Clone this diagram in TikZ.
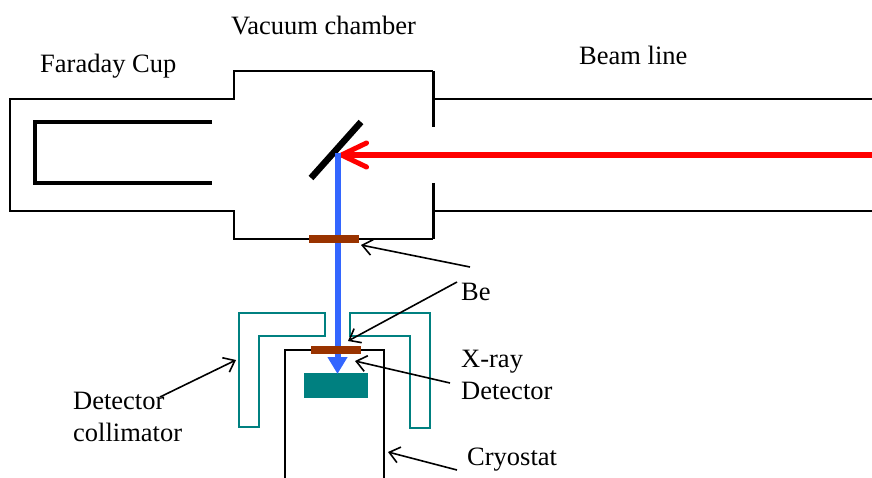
\documentclass[tikz,border=0pt]{standalone}
\usepackage{fontspec}
\setmainfont{Liberation Serif}
\usepackage{tikz}
\usetikzlibrary{arrows.meta}
\definecolor{beamRed}{HTML}{FF0000}
\definecolor{xrayBlue}{HTML}{3366FF}
\definecolor{beBrown}{HTML}{993300}
\definecolor{detTeal}{HTML}{008080}
\tikzset{
  wall/.style={draw=black, line width=1.6pt, line join=miter},
  thickwall/.style={draw=black, line width=3pt},
  cupline/.style={draw=black, line width=3.2pt},
  mirrorbar/.style={draw=black, line width=6.5pt},
  bewindow/.style={rectangle, fill=beBrown, minimum width=50pt, minimum height=8pt, inner sep=0pt},
  collimator/.style={draw=detTeal, line width=1.3pt},
  detbox/.style={rectangle, fill=detTeal, minimum width=64pt, minimum height=25pt, inner sep=0pt},
  redbeam/.style={draw=beamRed, line width=6.5pt, -{Straight Barb[length=25pt,width=24pt,line width=5pt,round]}},
  bluebeam/.style={draw=xrayBlue, line width=6pt, -{Triangle[length=17pt,width=19pt]}},
  pointer/.style={draw=black, line width=1.6pt, -{Straight Barb[length=10pt,width=16pt,line width=1.6pt]}},
  lab/.style={font=\fontsize{26.5}{32}\selectfont, anchor=base west, inner sep=0pt},
}
\begin{document}
\begin{tikzpicture}[x=1pt,y=-1pt]
  \useasboundingbox (0,0) rectangle (872,478);

  % chamber and beam line
  \draw[wall] (872,99) -- (433,99);
  \draw[wall] (872,211) -- (433,211);
  \draw[wall] (433,71) -- (234,71) -- (234,99) -- (10,99) -- (10,211) -- (234,211) -- (234,239) -- (433,239);
  \draw[thickwall] (433,71) -- (433,127);
  \draw[thickwall] (433,183) -- (433,239);
  \draw[cupline] (212,122) -- (35,122) -- (35,183) -- (212,183);

  % mirror and beams
  \coordinate (mirrorA) at (361,122);
  \coordinate (mirrorB) at (311,178);
  \coordinate (beamIn) at (872,155);
  \coordinate (beamHit) at (339,155);
  \coordinate (xrayEnd) at (337.5,374);
  \draw[mirrorbar] (mirrorA) -- (mirrorB);

  % collimator and cryostat
  \draw[collimator] (239,313) -- (325,313) -- (325,336) -- (259,336) -- (259,427) -- (239,427) -- cycle;
  \draw[collimator] (350,313) -- (430,313) -- (430,428) -- (410,428) -- (410,336) -- (350,336) -- cycle;
  \draw[wall] (285,478) -- (285,350) -- (384,350) -- (384,478);
  \node[detbox] (detector) at (336,385.5) {};

  \draw[redbeam] (beamIn) -- (beamHit);
  \draw[bluebeam] (337.5,153) -- (xrayEnd);
  \node[bewindow] (beTop) at (334,239) {};
  \node[bewindow] (beLow) at (336,350) {};

  % labels
  \node[lab] (vacuum) at (231,34.5) {Vacuum chamber};
  \node[lab] (faraday) at (40,73) {Faraday Cup};
  \node[lab] (beamline) at (579,64.5) {Beam line};
  \node[lab] (be) at (461,300) {Be};
  \node[lab, align=left, anchor=north west] (xray) at (461,350) {X-ray\\Detector};
  \node[lab, align=left, anchor=north west] (detcoll) at (73,391.5) {Detector\\collimator};
  \node[lab] (cryostat) at (467,465) {Cryostat};

  % pointers
  \coordinate (ptrA) at (470,267);
  \coordinate (tipA) at (361,245);
  \coordinate (ptrB) at (457,282);
  \coordinate (tipB) at (348,341);
  \coordinate (ptrC) at (450,383);
  \coordinate (tipC) at (355,361);
  \coordinate (ptrD) at (457,470);
  \coordinate (tipD) at (388,452);
  \coordinate (ptrE) at (160,397);
  \coordinate (tipE) at (236,360);
  \draw[pointer] (ptrA) -- (tipA);
  \draw[pointer] (ptrB) -- (tipB);
  \draw[pointer] (ptrC) -- (tipC);
  \draw[pointer] (ptrD) -- (tipD);
  \draw[pointer] (ptrE) -- (tipE);
\end{tikzpicture}
\end{document}
